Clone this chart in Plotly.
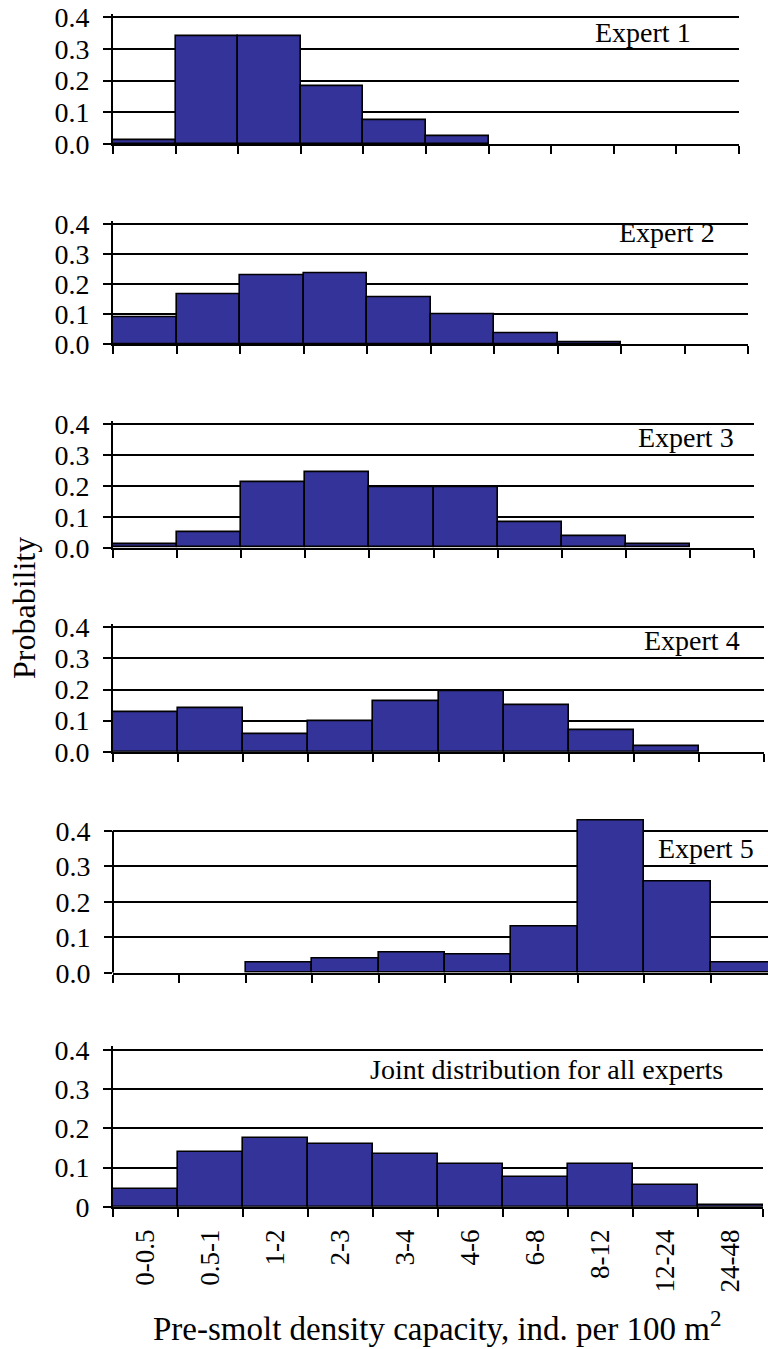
import plotly.graph_objects as go

# Density classes (individuals per 100 m2)
categories = ["0-0.5", "0.5-1", "1-2", "2-3", "3-4", "4-6", "6-8", "8-12", "12-24", "24-48"]

# Probability per class for each expert and the pooled distribution
expert1 = [0.013, 0.342, 0.342, 0.183, 0.076, 0.026, 0, 0, 0, 0]
expert2 = [0.089, 0.167, 0.228, 0.236, 0.155, 0.099, 0.035, 0.007, 0, 0]
expert3 = [0.011, 0.050, 0.212, 0.245, 0.195, 0.195, 0.082, 0.038, 0.011, 0]
expert4 = [0.127, 0.140, 0.057, 0.097, 0.164, 0.195, 0.148, 0.070, 0.018, 0]
expert5 = [0, 0, 0.029, 0.040, 0.057, 0.052, 0.131, 0.428, 0.256, 0.028]
joint = [0.046, 0.139, 0.174, 0.160, 0.134, 0.108, 0.076, 0.108, 0.056, 0.003]

panel_titles = ["Expert 1", "Expert 2", "Expert 3", "Expert 4", "Expert 5",
                "Joint distribution for all experts"]
y_tick_vals = [0, 0.1, 0.2, 0.3, 0.4]
y_tick_text = ["0.0", "0.1", "0.2", "0.3", "0.4"]
y_tick_text_joint = ["0", "0.1", "0.2", "0.3", "0.4"]

W, H = 768, 1349
FONT = "Liberation Serif, Times New Roman, serif"
BAR = "#333399"

# Panel frames in pixels: left, right, y of 0.0, y of 0.4, y-range top
panels = [
    dict(left=113, right=739, p0=144.0, p4=17.3, top=0.41, clip=None),
    dict(left=113, right=748, p0=344.0, p4=224.3, top=0.41, clip=None),
    dict(left=113, right=754, p0=547.7, p4=424.3, top=0.41, clip=None),
    dict(left=113, right=764, p0=751.7, p4=627.3, top=0.41, clip=None),
    dict(left=113, right=777, p0=972.7, p4=830.7, top=0.44, clip=768),
    dict(left=113, right=763, p0=1206.7, p4=1050.0, top=0.41, clip=None),
]
series = [expert1, expert2, expert3, expert4, expert5, joint]
label_pos = [(643, 32), (667, 232), (686, 438), (692, 640), (706, 848), (546, 1069)]

fig = go.Figure()
layout = dict(
    width=W, height=H,
    margin=dict(l=0, r=0, t=0, b=0, pad=0, autoexpand=False),
    paper_bgcolor="white", plot_bgcolor="white",
    showlegend=False, bargap=0,
    font=dict(family=FONT, color="black"),
)
annotations = []
shapes = []

for i, (pan, vals) in enumerate(zip(panels, series)):
    n = "" if i == 0 else str(i + 1)
    xa, ya = "x" + n, "y" + n
    # empty classes get no bar outline
    heights = [v if v > 0 else None for v in vals]
    fig.add_trace(go.Bar(
        x=categories, y=heights, xaxis=xa, yaxis=ya,
        marker=dict(color=BAR, line=dict(color="black", width=1.6)),
        width=1.0, hoverinfo="skip",
    ))
    # horizontal extent (panel 5 runs past the right edge of the page)
    nbins = len(categories)
    right_px = pan["right"] if pan["clip"] is None else pan["clip"]
    bin_px = (pan["right"] - pan["left"]) / nbins
    x_hi = -0.5 + (right_px - pan["left"]) / bin_px
    top_px = pan["p0"] - (pan["p0"] - pan["p4"]) * pan["top"] / 0.4
    last = i == len(panels) - 1

    layout["xaxis" + n] = dict(
        domain=[pan["left"] / W, right_px / W],
        anchor=ya, type="category", range=[-0.5, x_hi],
        showline=True, linecolor="black", linewidth=2,
        ticks="outside", tickson="boundaries", ticklen=8, tickwidth=2,
        tickcolor="black", showgrid=False, zeroline=False,
        showticklabels=last, tickangle=-90,
        tickfont=dict(family=FONT, size=27, color="black"),
        ticklabelstandoff=10, automargin=False,
        fixedrange=True,
    )
    layout["yaxis" + n] = dict(
        domain=[1 - pan["p0"] / H, 1 - top_px / H],
        anchor=xa, range=[0, pan["top"]],
        tickvals=y_tick_vals,
        ticktext=y_tick_text_joint if last else y_tick_text,
        ticks="outside", ticklen=8, tickwidth=2, tickcolor="black",
        showgrid=True, gridcolor="black", gridwidth=1.6,
        showline=(pan["top"] < 0.42), linecolor="black", linewidth=2,
        zeroline=False,
        tickfont=dict(family=FONT, size=28, color="black"),
        ticklabelstandoff=8, automargin=False,
        fixedrange=True,
    )
    if pan["top"] >= 0.42:
        # y-axis line only spans the labelled 0-0.4 range
        shapes.append(dict(type="line", xref=xa + " domain", yref=ya,
                           x0=0, x1=0, y0=0, y1=0.4,
                           line=dict(color="black", width=2)))
    lx, ly = label_pos[i]
    annotations.append(dict(
        text=panel_titles[i], x=lx / W, y=1 - ly / H,
        xref="paper", yref="paper", xanchor="center", yanchor="middle",
        showarrow=False, font=dict(family=FONT, size=28, color="black"),
    ))

annotations.append(dict(
    text="Probability", x=24 / W, y=1 - 608 / H, xref="paper", yref="paper",
    xanchor="center", yanchor="middle", textangle=-90, showarrow=False,
    font=dict(family=FONT, size=32, color="black"),
))
annotations.append(dict(
    text="Pre-smolt density capacity, ind. per 100 m<sup>2</sup>",
    x=437 / W, y=1 - 1326 / H, xref="paper", yref="paper",
    xanchor="center", yanchor="middle", showarrow=False,
    font=dict(family=FONT, size=33, color="black"),
))

layout["annotations"] = annotations
layout["shapes"] = shapes
fig.update_layout(**layout)
fig.write_html("out.html")
